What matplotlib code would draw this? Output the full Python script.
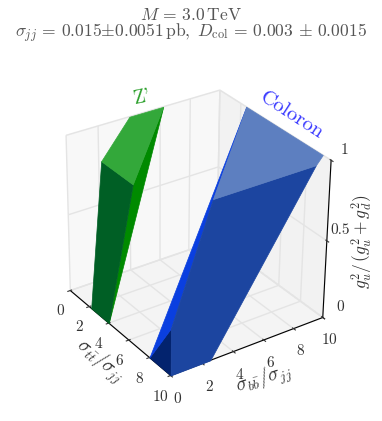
import matplotlib
matplotlib.use("Agg")
import matplotlib.pyplot as plt
from mpl_toolkits.mplot3d.art3d import Poly3DCollection

plt.rcParams["mathtext.fontset"] = "cm"
plt.rcParams["font.family"] = "cmr10"
plt.rcParams["axes.formatter.use_mathtext"] = True

x_ticks = [0, 2, 4, 6, 8, 10]
y_ticks = [0, 2, 4, 6, 8, 10]
z_ticks = [0, 0.5, 1]
z_tick_labels = ["0", "0.5", "1"]

# faces of the two allowed regions, (tt, bb, g_u^2 fraction)
zprime_front = [(2.2, 0, 0), (4, 0, 0), (6.5, 0, 1), (3.5, 0, 1)]
zprime_side = [(4, 0, 0), (6.5, 0, 1), (0, 6.2, 1)]
zprime_top = [(3.5, 0, 1), (6.5, 0, 1), (0, 6.2, 1), (0, 4, 1)]

coloron_front = [(8, 0, 0), (10, 0, 0), (10, 0, 0.3)]
coloron_side = [(8, 0, 0), (10, 0, 0.3), (10, 2.5, 1), (2.5, 10, 1)]
coloron_main = [(10, 0, 0), (10, 2.5, 0), (10, 9, 1), (10, 2.5, 1), (10, 0, 0.3)]
coloron_top = [(2.5, 10, 1), (9.3, 10, 1), (10, 9, 1), (10, 2.5, 1)]

fig = plt.figure(figsize=(3.82, 4.21), dpi=100)
ax = fig.add_axes([0.0, -0.053, 1.0, 1.0], projection="3d")
ax.view_init(elev=30, azim=-35, roll=-0.7)
ax.set_proj_type("persp", focal_length=0.9)
ax.set_box_aspect((1, 1, 0.97), zoom=0.81)
ax.computed_zorder = False

ax.set_xlim(0, 10)
ax.set_ylim(0, 10)
ax.set_zlim(0, 1)
ax.set_xticks(x_ticks)
ax.set_yticks(y_ticks)
ax.set_zticks(z_ticks)
ax.set_zticklabels([])
ax.tick_params(labelsize=11, colors="#333333", pad=1)

ax.xaxis.set_pane_color((0.95, 0.95, 0.95, 0.5))
ax.yaxis.set_pane_color((0.90, 0.90, 0.90, 0.5))
ax.zaxis.set_pane_color((0.92, 0.92, 0.92, 0.5))
for axis in [ax.xaxis, ax.yaxis, ax.zaxis]:
    axis._axinfo["grid"]["color"] = "#e4e4e4"
    axis._axinfo["grid"]["linewidth"] = 1.0

faces = [
    (zprime_front, "#005f25", 3),
    (zprime_side, "#008a00", 2),
    (zprime_top, "#33a83a", 4),
    (coloron_front, "#03236e", 5),
    (coloron_side, "#0a3fe0", 5),
    (coloron_main, "#1c45a0", 6),
    (coloron_top, "#5d7fc0", 7),
]
for verts, color, z in faces:
    poly = Poly3DCollection([verts], facecolor=color, edgecolor=color, linewidth=0.5, zorder=z)
    ax.add_collection3d(poly)

fig.text(0.5, 0.965, r"$M\,=\,3.0\,\mathrm{TeV}$", ha="center", va="center", fontsize=12.6, color="#555555")
fig.text(0.5, 0.92, r"$\sigma_{jj}\,=\,0.015{\pm}0.0051\,\mathrm{pb},\;D_{\mathrm{col}}\,=\,0.003\,\pm\,0.0015$",
         ha="center", va="center", fontsize=12.6, color="#555555")

fig.text(142 / 382, 1 - 97 / 421, "Z'", color="#2ca02c", fontsize=14, rotation=12, ha="center", va="center")
fig.text(292 / 382, 1 - 115 / 421, "Coloron", color="#3a3aff", fontsize=15, rotation=-33, ha="center", va="center")

# z tick labels sit above their ticks in the reference
for label, px, py in zip(z_tick_labels, [340, 340, 345], [307, 230, 150]):
    fig.text(px / 382, 1 - py / 421, label, fontsize=11, color="#333333", ha="center", va="center")

fig.text(100 / 382, 1 - 361 / 421, r"$\sigma_{t\bar{t}}/\sigma_{jj}$", fontsize=14, rotation=-40, color="#333333", ha="center", va="center")
fig.text(264 / 382, 1 - 379 / 421, r"$\sigma_{b\bar{b}}/\sigma_{jj}$", fontsize=14, rotation=17, color="#333333", ha="center", va="center")
fig.text(362 / 382, 1 - 242 / 421, r"$g_u^2/\,(g_u^2+g_d^2)$", fontsize=12.5, rotation=90, color="#333333", ha="center", va="center")

fig.savefig("out.png", dpi=100)
